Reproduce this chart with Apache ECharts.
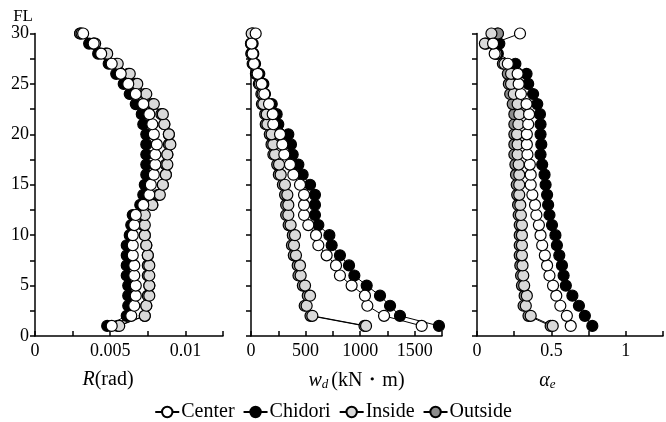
<!DOCTYPE html>
<html lang="en">
<head>
    <meta charset="UTF-8">
    <title>FL profile</title>
</head>
<body style="margin:0">
    <div id="main" style="width:666px;height:422px;"></div>
    <script src="https://cdn.jsdelivr.net/npm/echarts@6/dist/echarts.min.js"></script>
    <script>
        // floor levels 1..30
        var floors = [1, 2, 3, 4, 5, 6, 7, 8, 9, 10, 11, 12, 13, 14, 15, 16, 17, 18, 19, 20, 21, 22, 23, 24, 25, 26, 27, 28, 29, 30];
        var names = ['Center', 'Chidori', 'Inside', 'Outside'];

        // R (rad)
        var rCenter = [0.0051, 0.0064, 0.0066, 0.0067, 0.0067, 0.0066, 0.0066, 0.0065, 0.0065, 0.0065, 0.0066, 0.0067, 0.0072, 0.0076, 0.0077, 0.0079, 0.0080, 0.0080, 0.0081, 0.0079, 0.0078, 0.0076, 0.0072, 0.0067, 0.0062, 0.0057, 0.0051, 0.0044, 0.0039, 0.0032];
        var rChidori = [0.0048, 0.0061, 0.0062, 0.0062, 0.0062, 0.0061, 0.0061, 0.0061, 0.0061, 0.0063, 0.0064, 0.0065, 0.0070, 0.0072, 0.0073, 0.0074, 0.0074, 0.0074, 0.0074, 0.0074, 0.0072, 0.0071, 0.0067, 0.0063, 0.0059, 0.0054, 0.0049, 0.0042, 0.0036, 0.0030];
        var rInside = [0.0056, 0.0073, 0.0074, 0.0076, 0.0076, 0.0076, 0.0076, 0.0075, 0.0074, 0.0073, 0.0073, 0.0073, 0.0078, 0.0083, 0.0085, 0.0087, 0.0088, 0.0088, 0.0090, 0.0089, 0.0086, 0.0085, 0.0079, 0.0074, 0.0068, 0.0063, 0.0055, 0.0048, 0.0040, 0.0031];
        var rOutside = [0.0055, 0.0073, 0.0074, 0.0075, 0.0076, 0.0075, 0.0075, 0.0075, 0.0074, 0.0073, 0.0072, 0.0072, 0.0078, 0.0082, 0.0085, 0.0087, 0.0087, 0.0088, 0.0089, 0.0089, 0.0086, 0.0084, 0.0078, 0.0073, 0.0067, 0.0062, 0.0054, 0.0047, 0.0039, 0.0030];

        // wd (kN·m)
        var wCenter = [1564, 1219, 1066, 1044, 922, 815, 779, 693, 617, 596, 525, 486, 486, 486, 449, 388, 357, 305, 287, 266, 204, 199, 165, 122, 98, 61, 27, 15, 6, 43];
        var wChidori = [1722, 1365, 1274, 1182, 1060, 947, 898, 815, 739, 718, 617, 586, 586, 586, 541, 473, 434, 382, 366, 342, 250, 235, 190, 128, 113, 76, 37, 21, 15, 21];
        var wInside = [1054, 562, 510, 541, 495, 455, 449, 412, 394, 403, 363, 342, 342, 333, 311, 272, 257, 220, 204, 189, 150, 144, 113, 107, 82, 52, 21, 6, 0, 6];
        var wOutside = [1040, 545, 492, 520, 475, 435, 428, 392, 375, 383, 345, 322, 322, 312, 292, 255, 240, 205, 188, 172, 135, 130, 100, 95, 72, 45, 15, 3, 0, 12];

        // alpha_e
        var aCenter = [0.630, 0.604, 0.560, 0.533, 0.511, 0.487, 0.471, 0.456, 0.438, 0.427, 0.416, 0.399, 0.390, 0.372, 0.361, 0.361, 0.355, 0.339, 0.335, 0.335, 0.344, 0.350, 0.333, 0.295, 0.280, 0.273, 0.207, 0.119, 0.108, 0.289];
        var aChidori = [0.775, 0.725, 0.685, 0.641, 0.597, 0.582, 0.571, 0.553, 0.537, 0.527, 0.504, 0.487, 0.478, 0.471, 0.461, 0.454, 0.438, 0.427, 0.432, 0.427, 0.427, 0.423, 0.405, 0.377, 0.344, 0.333, 0.258, 0.140, 0.150, 0.138];
        var aInside = [0.509, 0.361, 0.328, 0.335, 0.317, 0.311, 0.306, 0.302, 0.302, 0.302, 0.302, 0.295, 0.291, 0.284, 0.284, 0.284, 0.280, 0.273, 0.273, 0.269, 0.278, 0.284, 0.273, 0.247, 0.229, 0.229, 0.185, 0.130, 0.053, 0.097];
        var aOutside = [0.495, 0.346, 0.313, 0.320, 0.302, 0.296, 0.291, 0.287, 0.287, 0.287, 0.287, 0.280, 0.276, 0.270, 0.267, 0.262, 0.258, 0.251, 0.251, 0.251, 0.251, 0.251, 0.240, 0.223, 0.214, 0.207, 0.174, 0.125, 0.060, 0.141];

        var fills = { Center: '#ffffff', Chidori: '#000000', Inside: '#d9d9d9', Outside: '#8c8c8c' };
        var font = 'Liberation Serif';

        function pairs(vals) {
            var out = [];
            for (var i = 0; i < vals.length; i++) out.push([vals[i], floors[i]]);
            return out;
        }

        function mkSeries(name, idx, vals) {
            return {
                name: name,
                type: 'line',
                xAxisIndex: idx,
                yAxisIndex: idx,
                data: pairs(vals),
                symbol: 'circle',
                symbolSize: 11,
                lineStyle: { color: '#000', width: 1 },
                itemStyle: { color: fills[name], borderColor: '#000', borderWidth: 1.2 },
                emphasis: { disabled: true },
                animation: false
            };
        }

        // drawing order: Chidori at the bottom, Center on top
        var series = [];
        var panels = [
            [rChidori, rOutside, rInside, rCenter],
            [wChidori, wOutside, wInside, wCenter],
            [aChidori, aOutside, aInside, aCenter]
        ];
        var order = ['Chidori', 'Outside', 'Inside', 'Center'];
        for (var p = 0; p < panels.length; p++) {
            for (var k = 0; k < order.length; k++) {
                series.push(mkSeries(order[k], p, panels[p][k]));
            }
        }

        function xAx(idx, max, step, labelStep, name, rich, pad) {
            return {
                type: 'value',
                gridIndex: idx,
                min: 0,
                max: max,
                interval: step,
                axisLine: { lineStyle: { color: '#000', width: 1.5 } },
                axisTick: { inside: true, length: 5, lineStyle: { color: '#000', width: 1.5 } },
                splitLine: { show: false },
                axisLabel: {
                    color: '#000', fontFamily: font, fontSize: 18, margin: 6,
                    formatter: function (v) {
                        var q = v / labelStep;
                        if (Math.abs(q - Math.round(q)) > 1e-6 || v > max - 1e-9) return '';
                        return String(+v.toFixed(4));
                    }
                },
                name: name,
                nameLocation: 'middle',
                nameGap: 34,
                nameTextStyle: { color: '#000', fontFamily: font, fontSize: 20, padding: pad, rich: rich }
            };
        }

        function yAx(idx, showLabel) {
            return {
                type: 'value',
                gridIndex: idx,
                min: 0,
                max: 30,
                interval: 2.5,
                axisLine: { lineStyle: { color: '#000', width: 1.5 } },
                axisTick: { inside: false, length: 5, lineStyle: { color: '#000', width: 1.5 } },
                splitLine: { show: false },
                axisLabel: {
                    show: showLabel, color: '#000', fontFamily: font, fontSize: 18, margin: 6,
                    formatter: function (v) { return v % 5 === 0 ? String(v) : ''; }
                },
                name: showLabel ? 'FL' : '',
                nameLocation: 'end',
                nameGap: 8,
                nameTextStyle: { color: '#000', fontFamily: font, fontSize: 17, align: 'right', padding: [0, 2, 0, 0] }
            };
        }

        var it = { fontStyle: 'italic', fontFamily: font, fontSize: 20, color: '#000' };
        var sub = { fontStyle: 'italic', fontFamily: font, fontSize: 13, color: '#000', padding: [8, 3, 0, 0] };
        var reg = { fontFamily: font, fontSize: 20, color: '#000' };

        var option = {
            backgroundColor: '#fff',
            animation: false,
            legend: {
                data: names,
                left: 'center',
                top: 397,
                itemWidth: 24,
                itemHeight: 13,
                itemGap: 8,
                textStyle: { color: '#000', fontFamily: font, fontSize: 20, padding: [0, 0, 0, -3] }
            },
            grid: [
                { left: 35, top: 33.5, width: 188, height: 302.5 },
                { left: 251, top: 33.5, width: 191, height: 302.5 },
                { left: 477, top: 33.5, width: 189, height: 302.5 }
            ],
            xAxis: [
                xAx(0, 0.0125, 0.0025, 0.005, '{i|R}{r|(rad)}', { i: it, r: reg }, [0, 42, 0, 0]),
                xAx(1, 1750, 250, 500, '{i|w}{s|d}{r|(kN・m)}', { i: it, s: sub, r: reg }, [0, 0, 0, 20]),
                xAx(2, 1.25, 0.25, 0.5, '{i|α}{s|e}', { i: it, s: sub }, [0, 42, 0, 0])
            ],
            yAxis: [yAx(0, true), yAx(1, false), yAx(2, false)],
            series: series
        };

        var myChart = echarts.init(document.getElementById('main'));
        myChart.setOption(option);
    </script>
</body>
</html>
